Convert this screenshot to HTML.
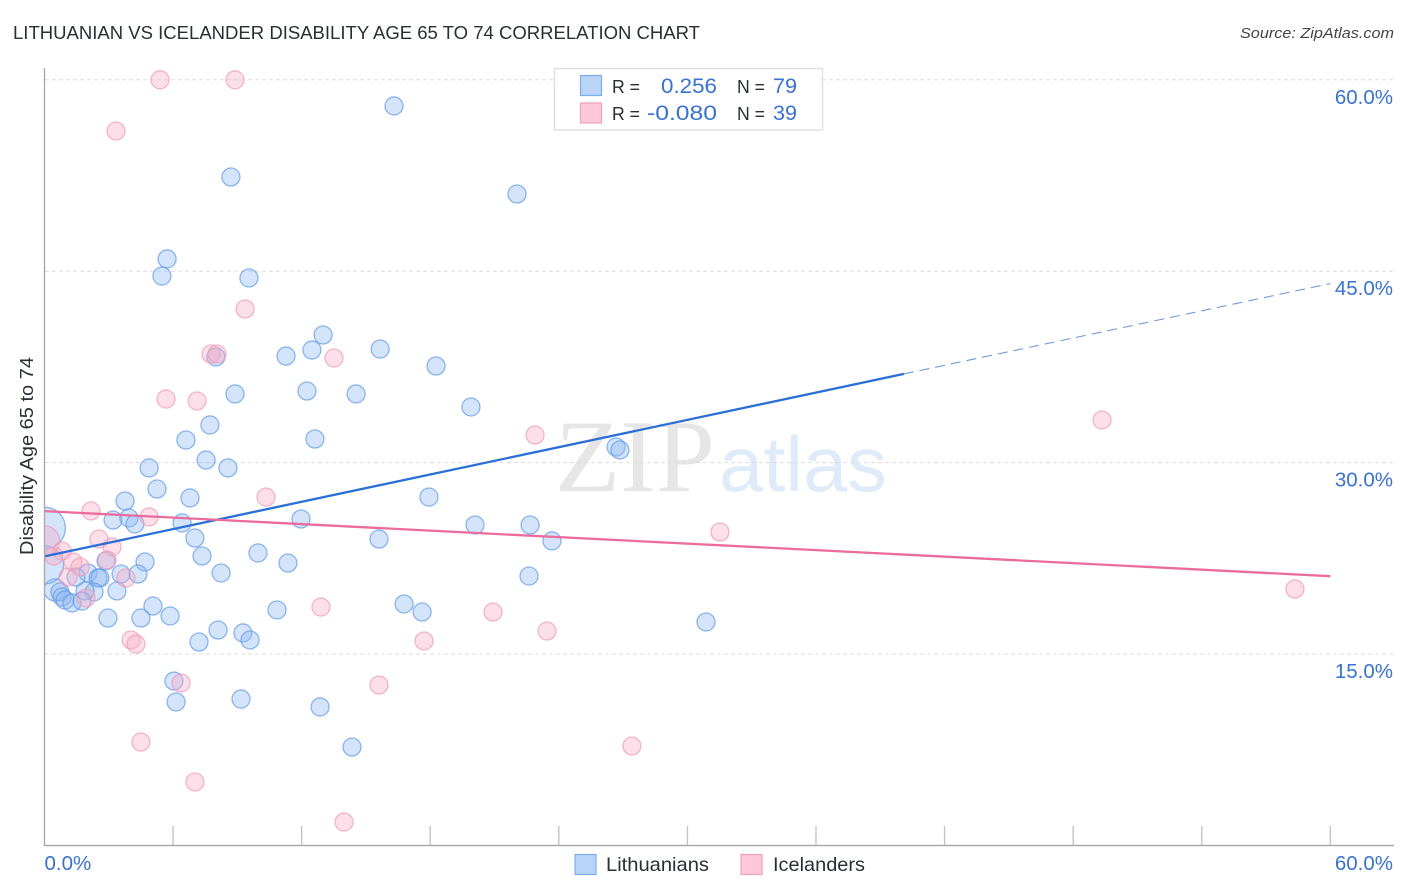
<!DOCTYPE html>
<html lang="en">
<head>
<meta charset="utf-8">
<title>Lithuanian vs Icelander Disability Age 65 to 74 Correlation Chart</title>
<style>
html,body{margin:0;padding:0;background:#fff;width:1406px;height:892px;overflow:hidden}
svg{display:block;font-family:"Liberation Sans",sans-serif}
</style>
</head>
<body>
<svg id="chart" width="1406" height="892" viewBox="0 0 1406 892" xmlns="http://www.w3.org/2000/svg">
  <defs><clipPath id="plot-clip"><rect x="45" y="60" width="1350" height="786"/></clipPath></defs>
  <text x="13" y="39" font-size="18.5" fill="#2a2f36" textLength="687" lengthAdjust="spacingAndGlyphs">LITHUANIAN VS ICELANDER DISABILITY AGE 65 TO 74 CORRELATION CHART</text>
  <text x="1394" y="38" font-size="15" font-style="italic" fill="#444" text-anchor="end" textLength="154" lengthAdjust="spacingAndGlyphs">Source: ZipAtlas.com</text>

  <g>
    <text x="555" y="491" font-family="'Liberation Serif',serif" font-size="103" fill="#e6e6e6" textLength="160" lengthAdjust="spacingAndGlyphs">ZIP</text>
    <text x="719" y="491" font-size="78" fill="#e0ebfa" textLength="168" lengthAdjust="spacingAndGlyphs">atlas</text>
  </g>

  <g id="grid"></g>
  <g id="points" clip-path="url(#plot-clip)"></g>
  <g id="trends"></g>

  <line x1="44.5" y1="68" x2="44.5" y2="846" stroke="#aaa" stroke-width="1.4"/>
  <line x1="44" y1="845.5" x2="1394" y2="845.5" stroke="#aaa" stroke-width="1.4"/>
  <g id="xticks"></g>
  <g id="ylabels"></g>
  <g id="xlabels"></g>

  <text transform="translate(33,456) rotate(-90)" font-size="18.5" fill="#2a2f36" text-anchor="middle" textLength="198" lengthAdjust="spacingAndGlyphs">Disability Age 65 to 74</text>

  <g>
    <rect x="554.5" y="68.5" width="268" height="61.5" fill="#fff" stroke="#e0e0e0" stroke-width="1.5"/>
    <rect x="580.5" y="75.5" width="21" height="20" fill="#b8d4f8" stroke="#7cacea" stroke-width="1.2"/>
    <rect x="580.5" y="103" width="21" height="20" fill="#fcc8da" stroke="#f0a0bc" stroke-width="1.2"/>
    <text x="612" y="93" font-size="18.5" fill="#2a2f36" textLength="28" lengthAdjust="spacingAndGlyphs">R =</text>
    <text x="661" y="93" font-size="21.5" fill="#3a72d0" textLength="56" lengthAdjust="spacingAndGlyphs">0.256</text>
    <text x="737" y="93" font-size="18.5" fill="#2a2f36" textLength="28" lengthAdjust="spacingAndGlyphs">N =</text>
    <text x="773" y="93" font-size="21.5" fill="#3a72d0" textLength="24" lengthAdjust="spacingAndGlyphs">79</text>
    <text x="612" y="120" font-size="18.5" fill="#2a2f36" textLength="28" lengthAdjust="spacingAndGlyphs">R =</text>
    <text x="647" y="120" font-size="21.5" fill="#3a72d0" textLength="70" lengthAdjust="spacingAndGlyphs">-0.080</text>
    <text x="737" y="120" font-size="18.5" fill="#2a2f36" textLength="28" lengthAdjust="spacingAndGlyphs">N =</text>
    <text x="773" y="120" font-size="21.5" fill="#3a72d0" textLength="24" lengthAdjust="spacingAndGlyphs">39</text>
  </g>

  <g>
    <g>
      <rect x="575" y="854.5" width="21" height="20" fill="#b8d4f8" stroke="#7cacea" stroke-width="1.2"/>
      <text x="606" y="871" font-size="19.5" fill="#2a2f36" textLength="103" lengthAdjust="spacingAndGlyphs">Lithuanians</text>
    </g>
    <g>
      <rect x="741" y="854.5" width="21" height="20" fill="#fcc8da" stroke="#f0a0bc" stroke-width="1.2"/>
      <text x="773" y="871" font-size="19.5" fill="#2a2f36" textLength="92" lengthAdjust="spacingAndGlyphs">Icelanders</text>
    </g>
  </g>
</svg>
<script>
const yTickValues = [15, 30, 45, 60];
const yTickLabels = ["15.0%", "30.0%", "45.0%", "60.0%"];
const xTickValues = [6, 12, 18, 24, 30, 36, 42, 48, 54, 60];
const xEndValues = [0, 60];
const xEndLabels = ["0.0%", "60.0%"];

const lithuanianX = [16.31,22.05,8.70,5.72,5.48,9.54,13.00,12.48,11.27,15.66,8.00,18.27,12.25,8.89,14.54,19.90,7.72,6.60,12.62,26.67,26.85,7.54,4.88,8.56,5.25,6.79,17.94,3.76,3.20,3.94,4.22,6.42,11.97,20.09,22.66,7.02,15.61,23.68,4.69,7.35,9.96,11.36,2.87,8.24,4.36,3.57,22.61,2.03,2.50,2.59,1.47,3.38,0.49,2.31,1.89,0.72,0.82,0.96,1.28,1.75,5.06,10.85,16.78,17.62,2.96,4.50,5.86,30.87,8.10,9.26,9.59,7.21,6.04,6.14,9.17,12.86,14.35,0,0];
const lithuanianY = [57.95,51.05,52.38,45.96,44.62,44.47,40.00,38.82,38.35,38.90,38.28,37.57,35.61,35.38,35.38,34.36,32.95,31.77,31.85,31.22,30.99,30.20,29.58,29.58,27.93,27.23,27.30,26.99,25.50,25.66,25.19,25.27,25.58,25.11,25.11,24.09,24.01,23.86,22.21,22.68,22.92,22.13,22.29,21.35,21.27,21.27,21.11,21.35,20.96,20.96,21.03,19.94,20.02,19.86,19.94,19.86,19.47,19.23,19.00,19.15,18.76,18.45,18.92,18.29,17.82,17.82,17.98,17.51,16.88,16.65,16.10,15.94,12.88,11.24,11.47,10.85,7.71,24.87,21.98];
const lithuanianPop = [1,1,1,1,1,1,1,1,1,1,1,1,1,1,1,1,1,1,1,1,1,1,1,1,1,1,1,1,1,1,1,1,1,1,1,1,1,1,1,1,1,1,1,1,1,1,1,1,1,1,1,1,1.5,1,1,1,1,1,1,1,1,1,1,1,1,1,1,1,1,1,1,1,1,1,1,1,1,5.4,4.5];

const icelanderX = [5.39,8.89,3.34,9.36,7.77,8.05,13.51,5.67,7.12,22.89,49.35,10.34,2.17,4.88,31.52,2.54,3.15,0.82,0.44,1.33,1.66,2.92,3.80,1.10,1.94,58.35,12.90,20.93,23.45,17.71,4.04,4.27,6.37,15.61,4.50,27.41,7.02,13.98,0];
const icelanderY = [60.00,60.00,55.99,42.04,38.51,38.51,38.20,34.98,34.83,32.16,33.34,27.30,26.21,25.74,24.56,24.01,23.39,23.07,22.68,22.21,21.82,22.37,20.96,21.03,19.39,20.09,18.68,18.29,16.80,16.02,16.10,15.78,12.73,12.57,8.10,7.79,4.97,1.83,23.86];
const icelanderPop = [1,1,1,1,1,1,1,1,1,1,1,1,1,1,1,1,1,1,1,1,1,1,1,1,1,1,1,1,1,1,1,1,1,1,1,1,1,1,2.8];

const lithuanianTrendX = [0, 40.1];
const lithuanianTrendY = [22.65, 36.95];
const lithuanianForecastX = [40.1, 60];
const lithuanianForecastY = [36.95, 44.03];
const icelanderTrendX = [0, 60];
const icelanderTrendY = [26.2, 21.1];

const NS = "http://www.w3.org/2000/svg";
function xScale(v){ return 44.5 + v * 21.43; }
function yScale(v){ return 845.4 - v * 12.76; }
function make(tag, attrs, parent){
  const el = document.createElementNS(NS, tag);
  for (const k in attrs) el.setAttribute(k, attrs[k]);
  parent.appendChild(el);
  return el;
}
const grid = document.getElementById("grid");
const ylabels = document.getElementById("ylabels");
const xticks = document.getElementById("xticks");
const xlabels = document.getElementById("xlabels");
const points = document.getElementById("points");
const trends = document.getElementById("trends");

yTickValues.forEach(function(v, i){
  const line = make("line", {x1:45, x2:1394, y1:yScale(v), y2:yScale(v), stroke:"#dddddd", "stroke-width":1, "stroke-dasharray":"4 3"}, grid);
  
  
  const t = make("text", {x:1393, y:yScale(v)+24, "font-size":20.5, fill:"#3a72d0", "text-anchor":"end"}, ylabels);
  t.textContent = yTickLabels[i];
  
  
});

xTickValues.forEach(function(v){
  const line = make("line", {x1:xScale(v), x2:xScale(v), y1:826, y2:845, stroke:"#c4c4c4", "stroke-width":1.4}, xticks);
  
  
});

xEndValues.forEach(function(v, i){
  const t = make("text", {x: i === 0 ? xScale(v) : 1393, y:870, "font-size":20.5, fill:"#3a72d0", "text-anchor": i === 0 ? "start" : "end"}, xlabels);
  t.textContent = xEndLabels[i];
  
  
});

function drawPoints(xs, ys, pops, fill, stroke, fillOpacity, name){
  xs.forEach(function(x, i){
    const c = make("circle", {cx:xScale(x), cy:yScale(ys[i]), r:9 * Math.sqrt(pops[i]), fill:fill, "fill-opacity":fillOpacity, stroke:stroke, "stroke-opacity":0.7, "stroke-width":1.3}, points);
    
    
  });
}
drawPoints(lithuanianX, lithuanianY, lithuanianPop, "#8db9f1", "#5f9ae6", 0.38, "lithuanian-point");
drawPoints(icelanderX, icelanderY, icelanderPop, "#f7aac6", "#ee9ab7", 0.38, "icelander-point");

const trendA = make("line", {x1:xScale(lithuanianTrendX[0]), y1:yScale(lithuanianTrendY[0]), x2:xScale(lithuanianTrendX[1]), y2:yScale(lithuanianTrendY[1]), stroke:"#2a6fd6", "stroke-width":2.3}, trends);


const trendB = make("line", {x1:xScale(lithuanianForecastX[0]), y1:yScale(lithuanianForecastY[0]), x2:xScale(lithuanianForecastX[1]), y2:yScale(lithuanianForecastY[1]), stroke:"#6f9bdc", "stroke-width":1.1, "stroke-dasharray":"10 6"}, trends);


const trendC = make("line", {x1:xScale(icelanderTrendX[0]), y1:yScale(icelanderTrendY[0]), x2:xScale(icelanderTrendX[1]), y2:yScale(icelanderTrendY[1]), stroke:"#ea6c9c", "stroke-width":2.3}, trends);


</script>
</body>
</html>
